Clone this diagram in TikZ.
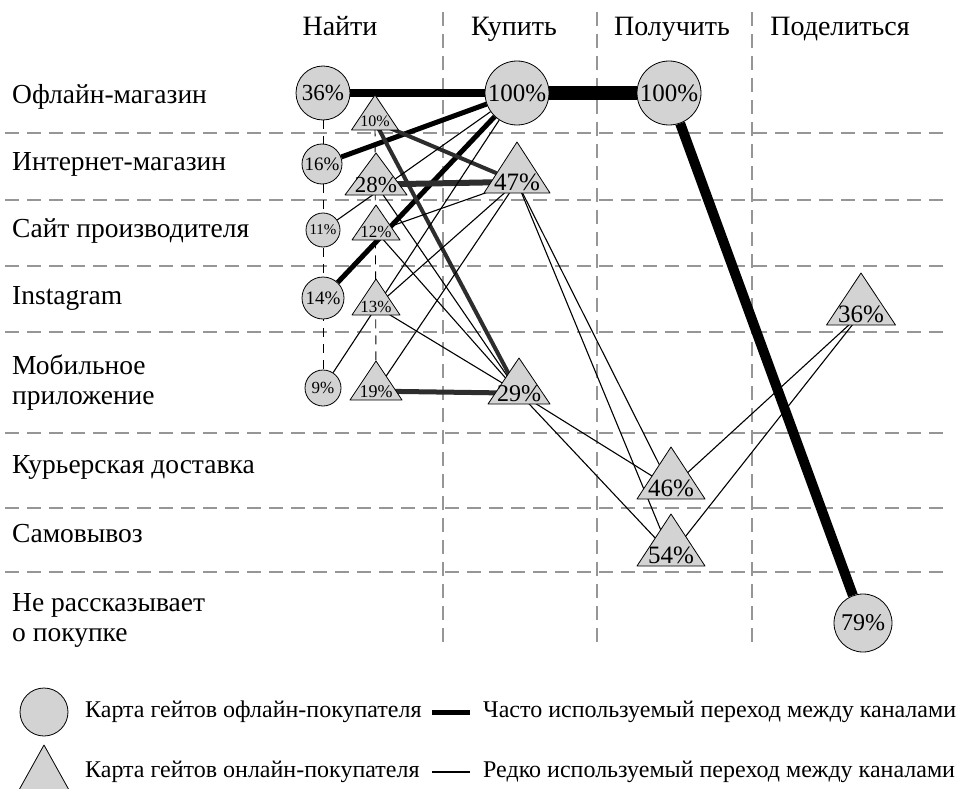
\documentclass[tikz,border=0pt]{standalone}
\usepackage{fontspec}
\setmainfont{Liberation Serif}
\usetikzlibrary{calc}

\pgfdeclarelayer{background}
\pgfdeclarelayer{foreground}
\pgfsetlayers{background,main,foreground}

\definecolor{gatefill}{RGB}{211,211,211}
\definecolor{gridgray}{RGB}{150,150,150}
\definecolor{darkline}{RGB}{45,45,45}

\newcommand{\fs}[1]{\fontsize{#1}{#1}\selectfont}

\begin{document}
\begin{tikzpicture}[x=1pt,y=-1pt,
    gridline/.style={gridgray, line width=1.4pt, dash pattern=on 14pt off 8pt},
    chain/.style={black, line width=0.9pt, dash pattern=on 9pt off 7pt},
    gatec/.style={circle, draw=black, line width=0.8pt, fill=gatefill, inner sep=0pt, minimum size=#1},
    gatebody/.style={draw=black, line width=0.8pt, fill=gatefill, line join=round},
    tritext/.style={anchor=base, yshift=3pt, inner sep=0pt},
    link/.style={black, line width=1.1pt},
    heavy/.style={black, line width=#1},
    grayheavy/.style={darkline, line width=#1},
    head/.style={anchor=base, inner sep=0pt, font=\fs{28}},
    rowlab/.style={anchor=west, align=left, inner sep=0pt, font=\fontsize{27.5}{30}\selectfont},
    keytext/.style={anchor=west, inner sep=0pt, font=\fs{24}}]
  \useasboundingbox (0,0) rectangle (971,789);

  % dashed grid of stages and channels
  \begin{pgfonlayer}{background}
    \foreach \y in {133,200,266,332,433,508,572}
      \draw[gridline] (5,\y) -- (945,\y);
    \foreach \x in {443,597,752}
      \draw[gridline] (\x,12) -- (\x,648);
  \end{pgfonlayer}

  % stage headings
  \node[head] (hfind) at (340,36) {Найти};
  \node[head] (hbuy) at (514,36) {Купить};
  \node[head] (hget) at (672,36) {Получить};
  \node[head] (hshare) at (840,36) {Поделиться};

  % channel labels
  \node[rowlab] (roff) at (12,97) {Офлайн-магазин};
  \node[rowlab] (rweb) at (12,164) {Интернет-магазин};
  \node[rowlab] (rmaker) at (12,231) {Сайт производителя};
  \node[rowlab] (rinsta) at (12,298) {Instagram};
  \node[rowlab] (rapp) at (12,383) {Мобильное\\приложение};
  \node[rowlab] (rcour) at (12,467) {Курьерская доставка};
  \node[rowlab] (rpick) at (12,534) {Самовывоз};
  \node[rowlab] (rnone) at (12,620) {Не рассказывает\\о покупке};

  % offline buyer gates (circles)
  \node[gatec=54pt, font=\fs{23}] (c36) at (323,93) {36\%};
  \node[gatec=40pt, font=\fs{19}] (c16) at (322,164) {16\%};
  \node[gatec=34pt, font=\fs{15}] (c11) at (323,230) {11\%};
  \node[gatec=42pt, font=\fs{19}] (c14) at (323,298) {14\%};
  \node[gatec=36pt, font=\fs{17}] (c9) at (323,388) {9\%};
  \node[gatec=64pt, font=\fs{25}] (c100b) at (517,93) {100\%};
  \node[gatec=64pt, font=\fs{25}] (c100g) at (669,93) {100\%};
  \node[gatec=58pt, font=\fs{24}] (c79) at (863,623) {79\%};

  % online buyer gates (triangles): text first, body under it
  \begin{pgfonlayer}{foreground}
    \node[tritext, font=\fs{16}] (t10) at (375,130) {10\%};
    \node[tritext, font=\fs{23}] (t28) at (376,195) {28\%};
    \node[tritext, font=\fs{17}] (t12) at (376,240) {12\%};
    \node[tritext, font=\fs{17}] (t13) at (376,315) {13\%};
    \node[tritext, font=\fs{18}] (t19) at (376,400) {19\%};
    \node[tritext, font=\fs{25}] (t47) at (517,193) {47\%};
    \node[tritext, font=\fs{24}] (t29) at (519,404) {29\%};
    \node[tritext, font=\fs{25}] (t46) at (671,499) {46\%};
    \node[tritext, font=\fs{25}] (t54) at (671,566) {54\%};
    \node[tritext, font=\fs{25}] (t36) at (861,325) {36\%};
  \end{pgfonlayer}
  \foreach \n/\w/\h in {t10/47/35, t28/62/42, t12/48/35, t13/48/36, t19/52/39,
                        t47/66/51, t29/62/46, t46/68/52, t54/68/52, t36/69/52}
    \draw[gatebody] ([yshift=-3pt]\n.base) ++(-\w/2,0) -- ++(\w,0) -- ++(-\w/2,-\h) -- cycle;

  % transitions between channels
  \begin{pgfonlayer}{background}
    \draw[chain] (c36) -- (c9);
    \draw[chain] (t10) -- (t19);
    % frequent
    \draw[heavy=8pt] (c36) -- (c100b);
    \draw[heavy=14pt] (c100b) -- (c100g);
    \draw[heavy=10pt] (c100g) -- (c79);
    \draw[heavy=5pt] (c16) -- (c100b);
    \draw[heavy=5pt] (c14) -- (c100b);
    \draw[grayheavy=6pt] (t28) -- (t47);
    \draw[grayheavy=4pt] (t10) -- (t47);
    \draw[grayheavy=4pt] (t10) -- (t29);
    \draw[grayheavy=5pt] (t19) -- (t29);
    % rare
    \draw[link] (c11) -- (c100b);
    \draw[link] (c9) -- (c100b);
    \draw[link] (t12) -- (t47);
    \draw[link] (t13) -- (t47);
    \draw[link] (t19) -- (t47);
    \draw[link] (t28) -- (t29);
    \draw[link] (t12) -- (t29);
    \draw[link] (t13) -- (t29);
    \draw[link] (t29) -- (t46);
    \draw[link] (t29) -- (t54);
    \draw[link] (t47) -- (t46);
    \draw[link] (t47) -- (t54);
    \draw[link] (t46) -- (t36);
    \draw[link] (t54) -- (t36);
  \end{pgfonlayer}

  % legend
  \node[gatec=48pt] (keyoff) at (44,712) {};
  \node[keytext] (keyofftxt) at (85,712) {Карта гейтов офлайн-покупателя};
  \draw[gatebody] (44,745) -- (19,790) -- (69,790) -- cycle;
  \node[keytext] (keyontxt) at (85,772) {Карта гейтов онлайн-покупателя};
  \coordinate (keyfa) at (432,712);
  \coordinate (keyfb) at (470,712);
  \draw[heavy=5pt] (keyfa) -- (keyfb);
  \node[keytext] (keyfreq) at (483,712) {Часто используемый переход между каналами};
  \coordinate (keyra) at (432,772);
  \coordinate (keyrb) at (470,772);
  \draw[link] (keyra) -- (keyrb);
  \node[keytext] (keyrare) at (483,772) {Редко используемый переход между каналами};
\end{tikzpicture}
\end{document}
